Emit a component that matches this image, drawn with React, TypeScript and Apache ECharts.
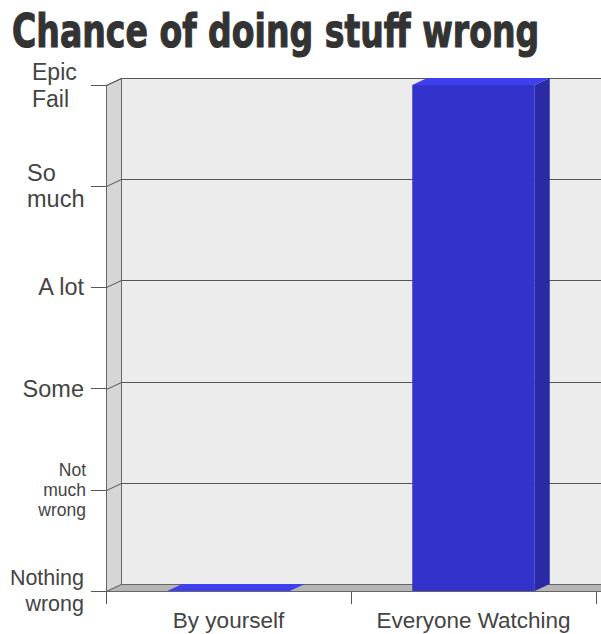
import React, { useEffect, useRef } from "react";
import * as echarts from "echarts";

const titleText = "Chance of doing stuff wrong";
const categories = ["By yourself", "Everyone Watching"];
const values = [0, 5];
const levelLabels = ["Nothing\nwrong", "Not\nmuch\nwrong", "Some", "A lot", "So\nmuch", "Epic\nFail"];
const levelStyles = ["n", "s", "m", "m", "so", "ep"];

const DX = 15;
const DY = 7;
const FONT = "Liberation Sans, Arial, sans-serif";

export default function App() {
  const ref = useRef<HTMLDivElement>(null);
  useEffect(() => {
    document.body.style.margin = "0";
    if (!ref.current) return;
    const chart = echarts.init(ref.current, null, { renderer: "svg" });

    const wallsRender = (params: any, api: any) => {
      const cs = params.coordSys;
      const x0 = Math.round(cs.x) + 0.5;
      const x1 = cs.x + cs.width;
      const y0 = Math.round(cs.y) + 0.5;
      const yb = Math.round(cs.y + cs.height) + 0.5;
      const children: any[] = [];
      children.push({
        type: "rect",
        shape: { x: x0 + DX, y: y0 - DY, width: x1 - x0 + 40, height: yb - y0 },
        style: { fill: "#ececec", stroke: "none" },
      });
      children.push({
        type: "polygon",
        shape: { points: [[x0, y0], [x0 + DX, y0 - DY], [x0 + DX, yb - DY], [x0, yb]] },
        style: { fill: "#d6d6d6", stroke: "#666", lineWidth: 1 },
      });
      children.push({
        type: "polygon",
        shape: { points: [[x0, yb], [x0 + DX, yb - DY], [x1 + DX + 40, yb - DY], [x1 + 40, yb]] },
        style: { fill: "#b6b6b6", stroke: "#666", lineWidth: 1 },
      });
      levelLabels.forEach((_, i) => {
        if (i === 0) return;
        const y = Math.round(api.coord([0, i])[1]) + 0.5;
        children.push({
          type: "polyline",
          shape: { points: [[x0, y], [x0 + DX, y - DY], [x1 + DX + 40, y - DY]] },
          style: { fill: "none", stroke: "#555", lineWidth: 1 },
        });
      });
      return { type: "group", children };
    };

    const barsRender = (params: any, api: any) => {
      const idx = api.value(0);
      const v = api.value(1);
      const top = api.coord([idx, v]);
      const bot = api.coord([idx, 0]);
      const bw = api.size([1, 0])[0] * 0.5;
      const xl = top[0] - bw / 2;
      const xr = top[0] + bw / 2;
      const yt = top[1];
      const yb = bot[1];
      return {
        type: "group",
        children: [
          {
            type: "polygon",
            shape: { points: [[xr, yt], [xr + DX, yt - DY], [xr + DX, yb - DY], [xr, yb]] },
            style: { fill: "#2a2aa6", stroke: "none" },
          },
          {
            type: "rect",
            shape: { x: xl, y: yt, width: bw, height: yb - yt },
            style: { fill: "#3333cc", stroke: "none" },
          },
          {
            type: "polygon",
            shape: { points: [[xl, yt], [xl + DX, yt - DY], [xr + DX, yt - DY], [xr, yt]] },
            style: { fill: "#3f3ff0", stroke: "none" },
          },
        ],
      };
    };

    chart.setOption({
      animation: false,
      backgroundColor: "#ffffff",
      grid: { left: 106, right: 5, top: 85, bottom: 43, containLabel: false },
      xAxis: {
        type: "category",
        data: categories,
        axisLine: { show: true, lineStyle: { color: "#555", width: 1 } },
        axisTick: { show: true, length: 13, interval: 0, lineStyle: { color: "#555" } },
        axisLabel: { color: "#444", fontSize: 22.5, fontFamily: FONT, margin: 18, interval: 0, hideOverlap: false },
        splitLine: { show: false },
      },
      yAxis: {
        type: "value",
        min: 0,
        max: 5,
        interval: 1,
        axisLine: { show: true, lineStyle: { color: "#555", width: 1 } },
        axisTick: { show: true, length: 15, lineStyle: { color: "#555" } },
        splitLine: { show: false },
        axisLabel: {
          color: "#444",
          fontSize: 23.5,
          lineHeight: 26,
          fontFamily: FONT,
          margin: 22,
          formatter: (v: number) => {
            const i = Math.round(v);
            const t = levelLabels[i] ?? "";
            return `{${levelStyles[i]}|${t}}`;
          },
          rich: {
            n: { fontSize: 21.5, lineHeight: 26, color: "#444", fontFamily: FONT, align: "right" },
            s: { fontSize: 17.5, lineHeight: 20, color: "#444", fontFamily: FONT, align: "right", padding: [0, -2, 0, 0] },
            m: { fontSize: 23.5, lineHeight: 26, color: "#444", fontFamily: FONT, align: "right" },
            so: { fontSize: 23.5, lineHeight: 26, color: "#444", fontFamily: FONT, align: "left", width: 57 },
            ep: { fontSize: 23, lineHeight: 27, color: "#444", fontFamily: FONT, align: "left", width: 52 },
          },
        },
      },
      graphic: [
        {
          type: "text",
          x: 12,
          y: 8,
          scaleX: 0.72,
          style: {
            x: 0,
            y: 0,
            text: titleText,
            fill: "#333",
            stroke: "#333",
            lineWidth: 1.2,
            font: "bold 46px 'DejaVu Sans', sans-serif",
            verticalAlign: "top",
          },
        },
      ],
      series: [
        {
          type: "custom",
          coordinateSystem: "cartesian2d",
          renderItem: wallsRender,
          data: [[0, 0]],
          clip: false,
          z: 1,
          silent: true,
        },
        {
          type: "custom",
          coordinateSystem: "cartesian2d",
          renderItem: barsRender,
          data: values.map((v, i) => [i, v]),
          encode: { x: 0, y: 1 },
          clip: false,
          z: 3,
        },
      ],
    });
    return () => chart.dispose();
  }, []);
  return <div ref={ref} style={{ width: 601, height: 634 }} />;
}
